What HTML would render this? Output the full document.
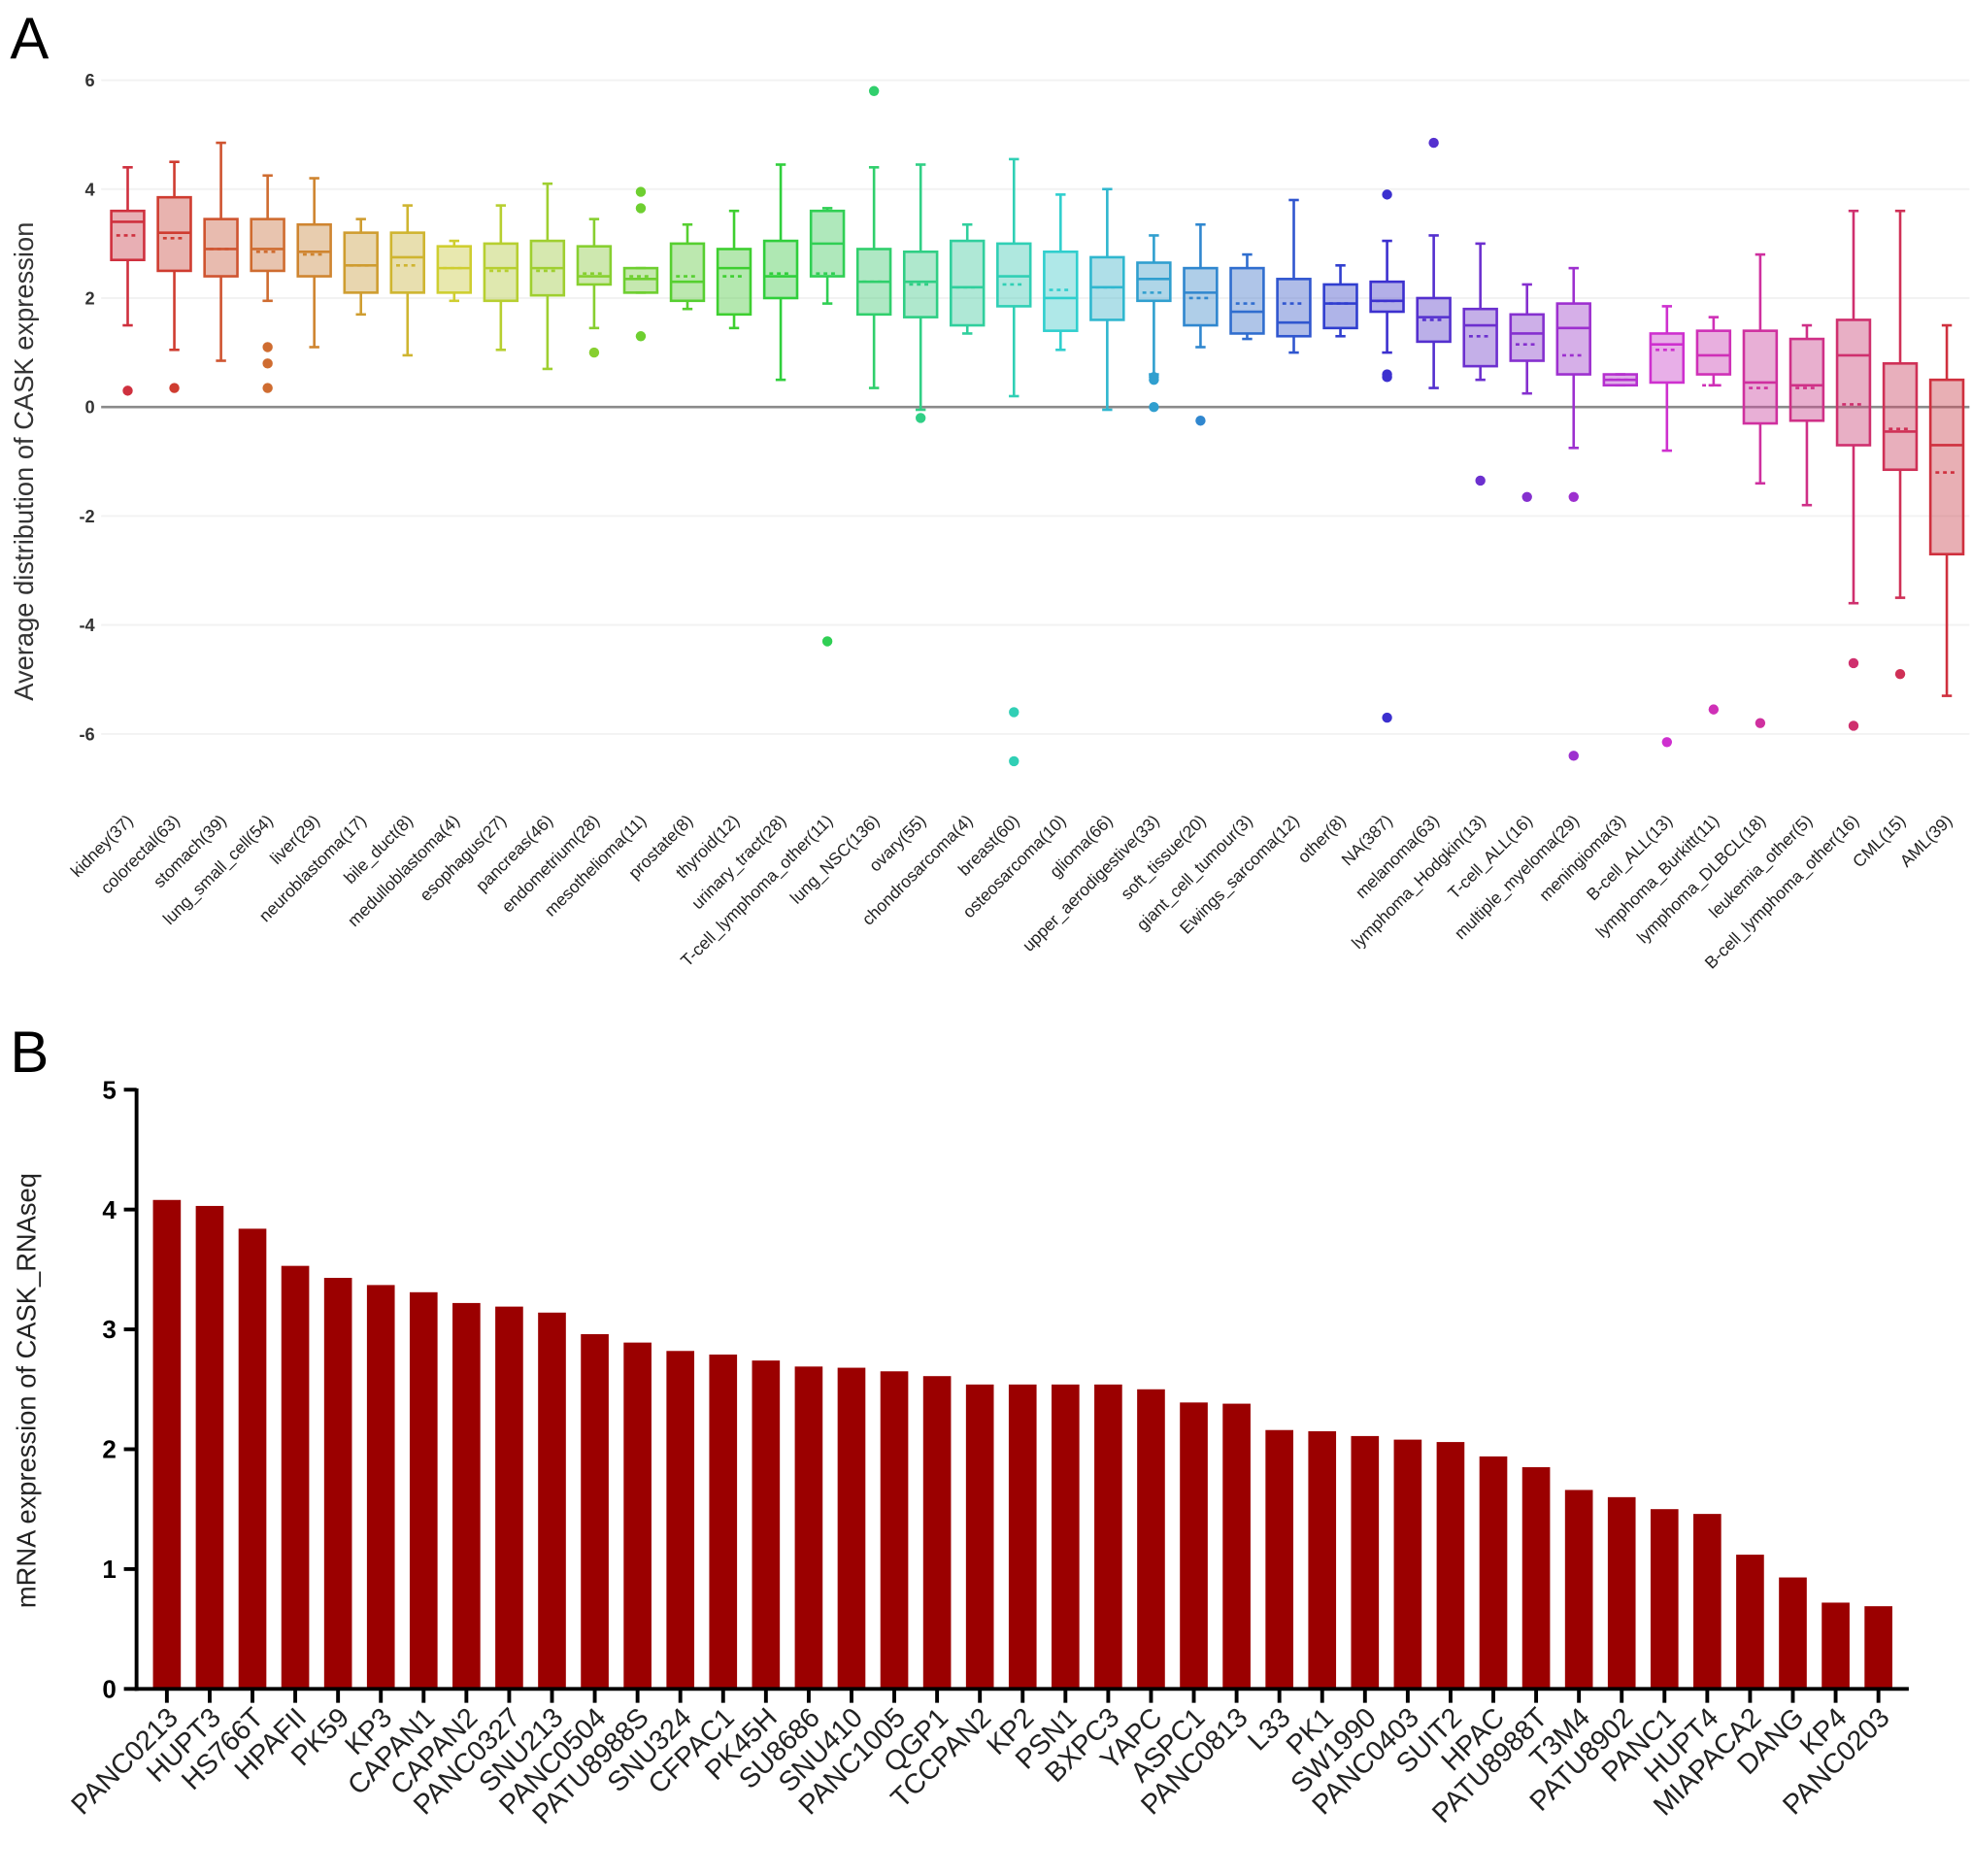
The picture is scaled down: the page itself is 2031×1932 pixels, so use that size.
<!DOCTYPE html>
<html><head><meta charset="utf-8"><style>
html,body{margin:0;padding:0;background:#fff;}
svg{display:block;font-family:"Liberation Sans",sans-serif;}
</style></head><body>
<svg id="fig" width="2031" height="1932" viewBox="0 0 1560 1484" xmlns="http://www.w3.org/2000/svg">
<text x="8" y="46" font-size="46">A</text>
<text x="8" y="848" font-size="46">B</text>
<g id="pa"></g>
<g id="pb"></g>
</svg>
<script>
// ---- Panel A data ----
const catsA = ["kidney(37)","colorectal(63)","stomach(39)","lung_small_cell(54)","liver(29)","neuroblastoma(17)","bile_duct(8)","medulloblastoma(4)","esophagus(27)","pancreas(46)","endometrium(28)","mesothelioma(11)","prostate(8)","thyroid(12)","urinary_tract(28)","T-cell_lymphoma_other(11)","lung_NSC(136)","ovary(55)","chondrosarcoma(4)","breast(60)","osteosarcoma(10)","glioma(66)","upper_aerodigestive(33)","soft_tissue(20)","giant_cell_tumour(3)","Ewings_sarcoma(12)","other(8)","NA(387)","melanoma(63)","lymphoma_Hodgkin(13)","T-cell_ALL(16)","multiple_myeloma(29)","meningioma(3)","B-cell_ALL(13)","lymphoma_Burkitt(11)","lymphoma_DLBCL(18)","leukemia_other(5)","B-cell_lymphoma_other(16)","CML(15)","AML(39)"];
const whiskLo = [1.5,1.05,0.85,1.95,1.1,1.7,0.95,1.95,1.05,0.7,1.45,2.1,1.8,1.45,0.5,1.9,0.35,-0.05,1.35,0.2,1.05,-0.05,0.6,1.1,1.25,1.0,1.3,1.0,0.35,0.5,0.25,-0.75,0.4,-0.8,0.4,-1.4,-1.8,-3.6,-3.5,-5.3];
const q1 = [2.7,2.5,2.4,2.5,2.4,2.1,2.1,2.1,1.95,2.05,2.25,2.1,1.95,1.7,2.0,2.4,1.7,1.65,1.5,1.85,1.4,1.6,1.95,1.5,1.35,1.3,1.45,1.75,1.2,0.75,0.85,0.6,0.4,0.45,0.6,-0.3,-0.25,-0.7,-1.15,-2.7];
const medians = [3.4,3.2,2.9,2.9,2.85,2.6,2.75,2.55,2.55,2.55,2.4,2.35,2.3,2.55,2.4,3.0,2.3,2.3,2.2,2.4,2.0,2.2,2.35,2.1,1.75,1.55,1.9,1.95,1.65,1.5,1.35,1.45,0.5,1.15,0.95,0.45,0.4,0.95,-0.45,-0.7];
const q3 = [3.6,3.85,3.45,3.45,3.35,3.2,3.2,2.95,3.0,3.05,2.95,2.55,3.0,2.9,3.05,3.6,2.9,2.85,3.05,3.0,2.85,2.75,2.65,2.55,2.55,2.35,2.25,2.3,2.0,1.8,1.7,1.9,0.6,1.35,1.4,1.4,1.25,1.6,0.8,0.5];
const whiskHi = [4.4,4.5,4.85,4.25,4.2,3.45,3.7,3.05,3.7,4.1,3.45,2.55,3.35,3.6,4.45,3.65,4.4,4.45,3.35,4.55,3.9,4.0,3.15,3.35,2.8,3.8,2.6,3.05,3.15,3.0,2.25,2.55,0.6,1.85,1.65,2.8,1.5,3.6,3.6,1.5];
const means = [3.15,3.1,2.9,2.85,2.8,2.6,2.6,2.55,2.5,2.5,2.45,2.4,2.4,2.4,2.45,2.45,2.3,2.25,2.2,2.25,2.15,2.2,2.1,2.0,1.9,1.9,1.9,1.95,1.6,1.3,1.15,0.95,0.5,1.05,0.4,0.35,0.35,0.05,-0.4,-1.2];
const outliers = [[0.3],[0.35],[],[1.1,0.8,0.35],[],[],[],[],[],[],[1.0],[3.95,3.65,1.3],[],[],[],[-4.3],[5.8],[-0.2],[],[-5.6,-6.5],[],[],[0.5,0.55,0.0],[-0.25],[],[],[],[3.9,0.6,0.55,-5.7],[4.85],[-1.35],[-1.65],[-1.65,-6.4],[],[-6.15],[-5.55],[-5.8],[],[-4.7,-5.85],[-4.9],[]];
const ticksA = [6,4,2,0,-2,-4,-6];

// ---- Panel B data ----
const catsB = ["PANC0213","HUPT3","HS766T","HPAFII","PK59","KP3","CAPAN1","CAPAN2","PANC0327","SNU213","PANC0504","PATU8988S","SNU324","CFPAC1","PK45H","SU8686","SNU410","PANC1005","QGP1","TCCPAN2","KP2","PSN1","BXPC3","YAPC","ASPC1","PANC0813","L33","PK1","SW1990","PANC0403","SUIT2","HPAC","PATU8988T","T3M4","PATU8902","PANC1","HUPT4","MIAPACA2","DANG","KP4","PANC0203"];
const valuesB = [4.08,4.03,3.84,3.53,3.43,3.37,3.31,3.22,3.19,3.14,2.96,2.89,2.82,2.79,2.74,2.69,2.68,2.65,2.61,2.54,2.54,2.54,2.54,2.50,2.39,2.38,2.16,2.15,2.11,2.08,2.06,1.94,1.85,1.66,1.60,1.50,1.46,1.12,0.93,0.72,0.69];
const ticksB = [0,1,2,3,4,5];

const NS = "http://www.w3.org/2000/svg";
function mk(tag, attrs, parent){const e=document.createElementNS(NS,tag);for(const k in attrs)e.setAttribute(k,attrs[k]);parent.appendChild(e);return e;}

// Panel A
(function(){
  const g=document.getElementById('pa');
  const yA=v=>322-v*43.1;
  const xA=i=>101+i*36.9;
  const hues=catsA.map((_,i)=>{const t=i/(catsA.length-1);return (355+t*360)%360;});
  ticksA.forEach(t=>{
    const gl=mk('line',{x1:80,x2:1558,y1:yA(t),y2:yA(t),stroke:t===0?'#8a8a8a':'#f2f2f2','stroke-width':t===0?2:1.5},g);
    
    
    const tl=mk('text',{x:75,y:yA(t)+5,'text-anchor':'end','font-size':14,'font-weight':'bold',fill:'#333'},g);
    tl.textContent=t;
    
    
  });
  const yt=mk('text',{x:0,y:0,'font-size':21,fill:'#333','text-anchor':'middle',transform:'translate(26,365) rotate(-90)'},g);
  yt.textContent='Average distribution of CASK expression';
  
  
  catsA.forEach((c,i)=>{
    const x=xA(i), col=`hsl(${hues[i]},62%,50%)`, fill=`hsla(${hues[i]},55%,55%,0.45)`, w=13;
    const bg=mk('g',{},g);
    
    
    mk('line',{x1:x,x2:x,y1:yA(whiskHi[i]),y2:yA(q3[i]),stroke:col,'stroke-width':2},bg);
    mk('line',{x1:x,x2:x,y1:yA(q1[i]),y2:yA(whiskLo[i]),stroke:col,'stroke-width':2},bg);
    mk('line',{x1:x-4,x2:x+4,y1:yA(whiskHi[i]),y2:yA(whiskHi[i]),stroke:col,'stroke-width':2},bg);
    mk('line',{x1:x-4,x2:x+4,y1:yA(whiskLo[i]),y2:yA(whiskLo[i]),stroke:col,'stroke-width':2},bg);
    mk('rect',{x:x-w,y:yA(q3[i]),width:2*w,height:Math.max(2,yA(q1[i])-yA(q3[i])),fill:fill,stroke:col,'stroke-width':2},bg);
    mk('line',{x1:x-w,x2:x+w,y1:yA(medians[i]),y2:yA(medians[i]),stroke:col,'stroke-width':2},bg);
    mk('line',{x1:x-w+4,x2:x+w-4,y1:yA(means[i]),y2:yA(means[i]),stroke:col,'stroke-width':2,'stroke-dasharray':'3,3'},bg);
    outliers[i].forEach(o=>{
      const d=mk('circle',{cx:x,cy:yA(o),r:4,fill:col},bg);
      
      
    });
    const lt=mk('text',{x:0,y:0,'font-size':13.5,fill:'#222','text-anchor':'end',transform:`translate(${x+5},${650}) rotate(-45)`},g);
    lt.textContent=c;
    
    
  });
})();

// Panel B
(function(){
  const g=document.getElementById('pb');
  const yB=v=>1336-v*94.8;
  const xB=i=>132+i*33.85;
  const yt=mk('text',{x:0,y:0,'font-size':21,fill:'#222','text-anchor':'middle',transform:'translate(28,1100) rotate(-90)'},g);
  yt.textContent='mRNA expression of CASK_RNAseq';
  
  
  valuesB.forEach((v,i)=>{
    const b=mk('rect',{x:xB(i)-11,y:yB(v),width:22,height:yB(0)-yB(v),fill:'#9b0000'},g);
    
    
    const tk=mk('line',{x1:xB(i),x2:xB(i),y1:1336,y2:1347,stroke:'#000','stroke-width':3},g);
    
    
    const lt=mk('text',{x:0,y:0,'font-size':22,fill:'#222','text-anchor':'end',transform:`translate(${xB(i)+10},${1360}) rotate(-45)`},g);
    lt.textContent=catsB[i];
    
    
  });
  const ax=mk('line',{x1:108,x2:108,y1:yB(5)-1,y2:1337.5,stroke:'#000','stroke-width':3},g);
  
  
  const xa=mk('line',{x1:106.5,x2:1510,y1:1336,y2:1336,stroke:'#000','stroke-width':3},g);
  
  
  ticksB.forEach(t=>{
    const tk=mk('line',{x1:98,x2:108,y1:yB(t),y2:yB(t),stroke:'#000','stroke-width':3},g);
    
    
    const tl=mk('text',{x:92,y:yB(t)+7,'text-anchor':'end','font-size':20,'font-weight':'bold'},g);
    tl.textContent=t;
    
    
  });
})();
</script>
</body></html>
